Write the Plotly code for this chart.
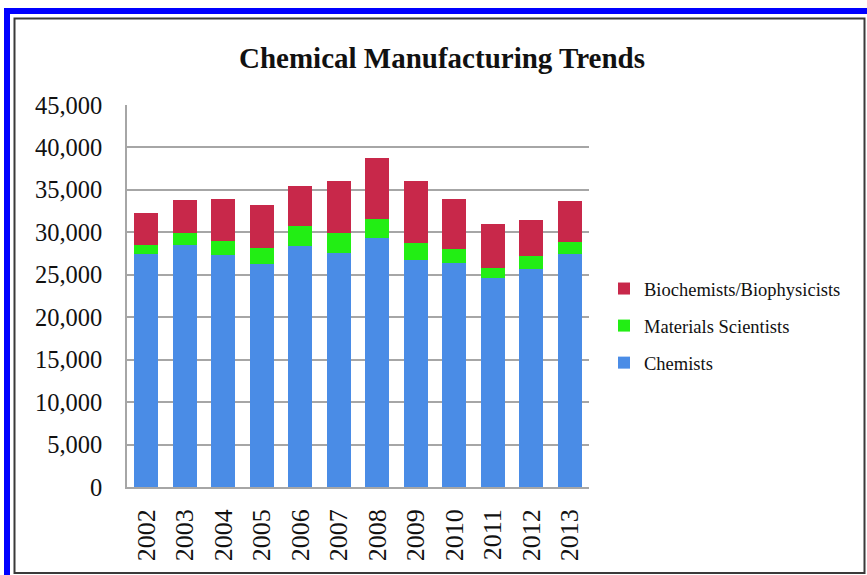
import plotly.graph_objects as go

# Employment in chemical manufacturing by occupation
years = ["2002", "2003", "2004", "2005", "2006", "2007",
         "2008", "2009", "2010", "2011", "2012", "2013"]
chemists = [27400, 28500, 27300, 26300, 28400, 27600,
            29300, 26700, 26400, 24600, 25700, 27400]
materials_scientists = [1050, 1400, 1700, 1900, 2300, 2350,
                        2300, 2100, 1650, 1250, 1500, 1450]
biochemists = [3850, 3950, 4950, 5000, 4800, 6050,
               7200, 7200, 5850, 5100, 4300, 4800]
y_ticks = [0, 5000, 10000, 15000, 20000, 25000, 30000, 35000, 40000, 45000]

FONT = "Liberation Serif, Times New Roman, serif"
W, H = 867, 575
ML, MR, MT, MB = 127, 278, 105, 88
PW, PH = W - ML - MR, H - MT - MB


def px(x):
    return (x - ML) / PW


def py(y):
    return (H - MB - y) / PH


fig = go.Figure()
# stacked bottom to top; legend lists the top segment first
series = [
    ("Chemists", chemists, "#4a8ce6", 3),
    ("Materials Scientists", materials_scientists, "#22ee14", 2),
    ("Biochemists/Biophysicists", biochemists, "#c8284a", 1),
]
for name, vals, color, rank in series:
    fig.add_trace(go.Bar(
        x=years, y=vals, name=name, legendgroup=name, legendrank=rank,
        marker=dict(color=color, line=dict(width=0)),
    ))

shapes = [
    # blue outer band (left and top)
    dict(type="rect", xref="paper", yref="paper", x0=px(4), x1=px(10),
         y0=py(8), y1=py(H + 5), fillcolor="#0000ff", line=dict(width=0), layer="above"),
    dict(type="rect", xref="paper", yref="paper", x0=px(4), x1=px(W + 5),
         y0=py(8), y1=py(14), fillcolor="#0000ff", line=dict(width=0), layer="above"),
    # inner dark border
    dict(type="rect", xref="paper", yref="paper", x0=px(14.5), x1=px(864.5),
         y0=py(18.5), y1=py(573), fillcolor="rgba(0,0,0,0)",
         line=dict(color="#3a3a3a", width=2), layer="above"),
]

fig.update_layout(
    width=W, height=H,
    margin=dict(l=ML, r=MR, t=MT, b=MB),
    paper_bgcolor="white", plot_bgcolor="white",
    barmode="stack", bargap=0.37,
    font=dict(family=FONT, color="#111111"),
    title=dict(text="<b>Chemical Manufacturing Trends</b>",
               font=dict(family=FONT, size=29, color="#111111"),
               x=px(442), xanchor="center", xref="paper",
               y=1 - 58 / H, yanchor="middle"),
    legend=dict(x=px(604), y=py(326), xanchor="left", yanchor="middle",
                traceorder="grouped", tracegroupgap=10,
                font=dict(family=FONT, size=18.5, color="#111111"),
                itemwidth=30, bgcolor="rgba(0,0,0,0)"),
    shapes=shapes,
    yaxis=dict(range=[0, 45000], tickvals=y_ticks,
               ticktext=[f"{v:,}" for v in y_ticks],
               showgrid=True, gridcolor="#a6a6a6", gridwidth=1.5,
               showline=True, linecolor="#a6a6a6", linewidth=1.5,
               zeroline=False, ticks="", ticklabelstandoff=18,
               tickfont=dict(family=FONT, size=24.5, color="#111111")),
    xaxis=dict(tickangle=-90, showline=True, linecolor="#a6a6a6", linewidth=1.5,
               ticks="", ticklabelstandoff=10,
               tickfont=dict(family=FONT, size=26, color="#111111")),
)

fig.write_html("out.html")
